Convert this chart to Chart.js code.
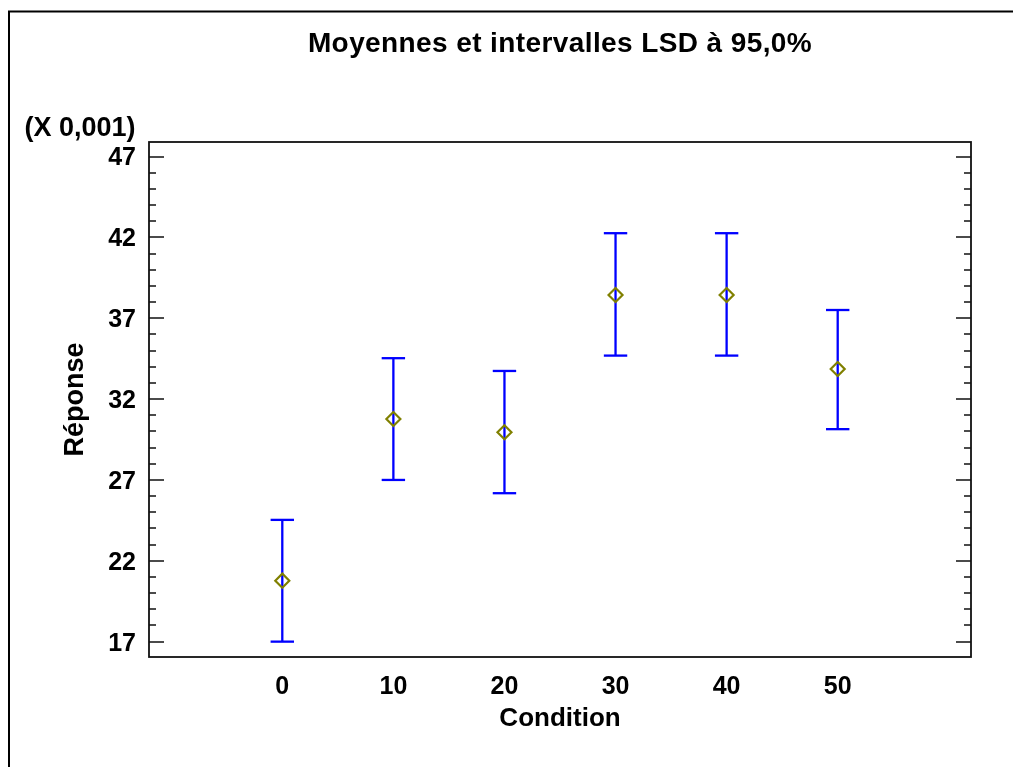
<!DOCTYPE html>
<html><head><meta charset="utf-8">
<script src="https://cdn.jsdelivr.net/npm/chart.js@4.4.0/dist/chart.umd.min.js"></script>
<style>html,body{margin:0;padding:0;background:#fff;overflow:hidden;} canvas{display:block;}</style>
</head><body>
<canvas id="c" width="1013" height="767"></canvas>
<script>
const categories = [0, 10, 20, 30, 40, 50];
const means = [20.77, 30.77, 29.95, 38.44, 38.44, 33.86];
const lowerLimits = [17.0, 27.0, 26.18, 34.69, 34.69, 30.14];
const upperLimits = [24.53, 34.53, 33.74, 42.26, 42.26, 37.51];
const yTickLabels = [17, 22, 27, 32, 37, 42, 47];
const xTickLabels = ['0', '10', '20', '30', '40', '50'];
const titleText = 'Moyennes et intervalles LSD à 95,0%';
const scaleNote = '(X 0,001)';
const xTitle = 'Condition';
const yTitle = 'Réponse';

const FONT = '"Liberation Sans", Arial, sans-serif';

const meanPoints = categories.map((c, i) => ({x: c, y: means[i]}));
const barPoints = [];
categories.forEach((c, i) => {
  barPoints.push({x: c, y: lowerLimits[i]});
  barPoints.push({x: c, y: upperLimits[i]});
  barPoints.push({x: c, y: null});
});

const decor = {
  id: 'decor',
  beforeDraw(chart) {
    const ctx = chart.ctx;
    ctx.save();
    ctx.fillStyle = '#fff';
    ctx.fillRect(0, 0, chart.width, chart.height);
    ctx.restore();
  },
  afterDraw(chart) {
    const {ctx, chartArea: a, scales: {y}} = chart;
    ctx.save();
    // outer frame
    ctx.strokeStyle = '#000';
    ctx.lineWidth = 2;
    ctx.beginPath();
    ctx.moveTo(9, chart.height);
    ctx.lineTo(9, 11.5);
    ctx.lineTo(chart.width, 11.5);
    ctx.stroke();
    // plot frame
    ctx.strokeStyle = '#111';
    ctx.lineWidth = 1.8;
    ctx.strokeRect(a.left, a.top, a.right - a.left, a.bottom - a.top);
    // y ticks (inward, both sides)
    ctx.lineWidth = 1.6;
    ctx.beginPath();
    for (let v = Math.ceil(y.min); v <= y.max; v++) {
      const py = Math.round(y.getPixelForValue(v));
      const len = yTickLabels.includes(v) ? 15 : 7;
      ctx.moveTo(a.left, py); ctx.lineTo(a.left + len, py);
      ctx.moveTo(a.right, py); ctx.lineTo(a.right - len, py);
    }
    ctx.stroke();
    // title
    ctx.fillStyle = '#000';
    ctx.textAlign = 'center';
    ctx.textBaseline = 'middle';
    ctx.font = 'bold 28px ' + FONT;
    try { ctx.letterSpacing = '0.4px'; } catch (e) {}
    ctx.fillText(titleText, (a.left + a.right) / 2, 44);
    try { ctx.letterSpacing = '0px'; } catch (e) {}
    ctx.font = 'bold 27px ' + FONT;
    ctx.fillText(scaleNote, 80, 129);
    ctx.restore();
  }
};

new Chart(document.getElementById('c'), {
  type: 'scatter',
  data: {
    datasets: [
      {
        label: 'Moyenne',
        data: meanPoints,
        showLine: false,
        pointStyle: 'rectRot',
        pointRadius: 7,
        pointBorderWidth: 2.2,
        pointBorderColor: '#808000',
        pointBackgroundColor: 'rgba(0,0,0,0)',
        borderColor: '#808000',
        backgroundColor: 'rgba(0,0,0,0)'
      },
      {
        label: 'LSD',
        data: barPoints,
        showLine: true,
        spanGaps: false,
        tension: 0,
        borderColor: '#0000ff',
        borderWidth: 2.3,
        pointStyle: 'line',
        pointRadius: 11.7,
        pointBorderWidth: 2.3,
        pointBorderColor: '#0000ff',
        pointBackgroundColor: '#0000ff'
      }
    ]
  },
  options: {
    responsive: false,
    animation: false,
    events: [],
    devicePixelRatio: 1,
    layout: {padding: {left: 0, top: 142, right: 42, bottom: 0}},
    plugins: {legend: {display: false}, title: {display: false}, tooltip: {enabled: false}},
    scales: {
      x: {
        type: 'linear',
        position: 'bottom',
        min: -12,
        max: 62,
        afterBuildTicks: s => { s.ticks = categories.map(v => ({value: v})); },
        afterFit: s => { s.height = 110; },
        grid: {display: false, drawTicks: false},
        border: {display: false},
        ticks: {
          autoSkip: false, maxRotation: 0, minRotation: 0,
          padding: 15,
          color: '#000',
          font: {family: FONT, size: 25, weight: 'bold'},
          callback: (v, i) => xTickLabels[i]
        },
        title: {
          display: true, text: xTitle, color: '#000',
          font: {family: FONT, size: 26, weight: 'bold'},
          padding: {top: 0, bottom: 33}
        }
      },
      y: {
        type: 'linear',
        position: 'left',
        min: 16.05,
        max: 47.9,
        afterBuildTicks: s => { s.ticks = yTickLabels.map(v => ({value: v})); },
        afterFit: s => { s.width = 149; },
        grid: {display: false, drawTicks: false},
        border: {display: false},
        ticks: {
          padding: 13,
          labelOffset: 2,
          color: '#000',
          font: {family: FONT, size: 25, weight: 'bold'},
          callback: v => String(v)
        },
        title: {
          display: true, text: yTitle, color: '#000',
          font: {family: FONT, size: 27, weight: 'bold'},
          padding: {top: 59, bottom: 0}
        }
      }
    }
  },
  plugins: [decor]
});
</script>
</body></html>
